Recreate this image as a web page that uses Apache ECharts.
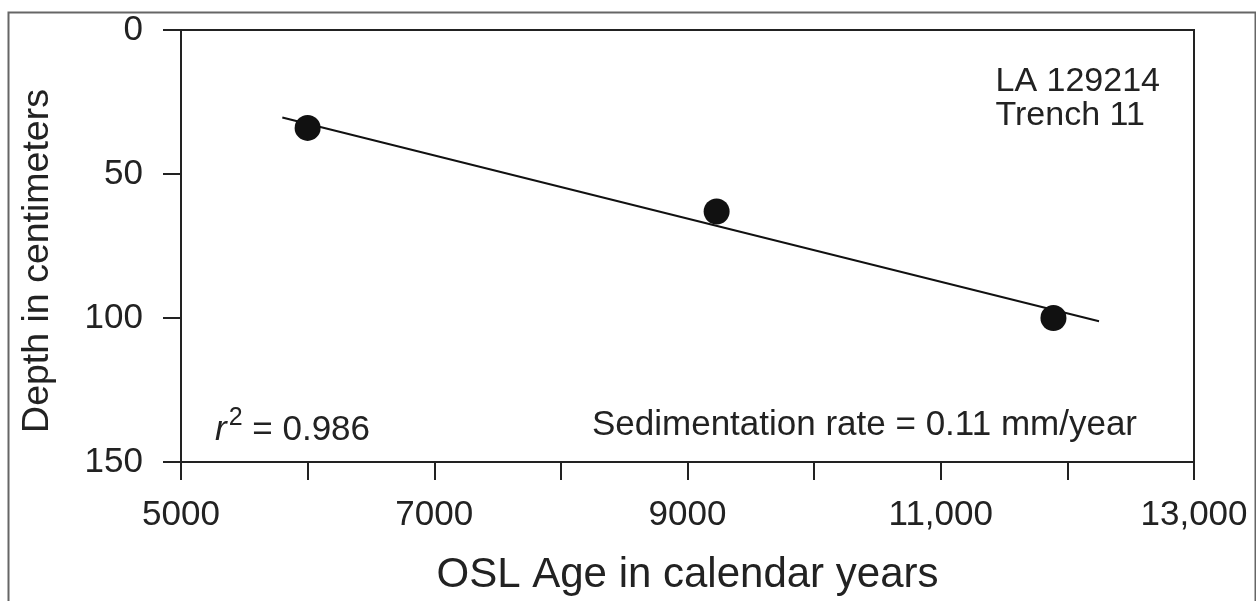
<!DOCTYPE html>
<html>
<head>
<meta charset="utf-8">
<script src="https://cdn.jsdelivr.net/npm/echarts@6/dist/echarts.min.js"></script>
<style>
html,body{margin:0;padding:0;background:#fff;}
#c{width:1256px;height:601px;}
</style>
</head>
<body>
<div id="c"></div>
<script>
// Data
const ages = [6000, 9230, 11890];       // OSL age, calendar years
const depths = [34, 63, 100];           // depth, cm
const fitAges = [5800, 12250];          // regression line endpoints (age)
const fitDepths = [30.4, 101.1];        // regression line endpoints (depth)
const xTicks = [5000, 7000, 9000, 11000, 13000];
const yTicks = [0, 50, 100, 150];
const siteLines = ['LA 129214', 'Trench 11'];
const r2Text = '0.986';
const rateText = 'Sedimentation rate = 0.11 mm/year';

const FONT = 'Liberation Sans, Arial, sans-serif';
const chart = echarts.init(document.getElementById('c'), null, {renderer: 'canvas'});

function fmtX(v) {
  if (xTicks.indexOf(v) < 0) return '';
  return v >= 10000 ? v.toLocaleString('en-US') : String(v);
}

chart.setOption({
  animation: false,
  backgroundColor: '#fff',
  grid: {left: 181, top: 30, right: 62, bottom: 138, show: true, borderColor: '#222', borderWidth: 2, backgroundColor: 'transparent'},
  xAxis: {
    type: 'value', min: 5000, max: 13000, interval: 1000,
    name: 'OSL Age in calendar years', nameLocation: 'middle', nameGap: 92,
    nameTextStyle: {fontFamily: FONT, fontSize: 42, color: '#222'},
    axisLine: {show: true, onZero: false, lineStyle: {color: '#222', width: 2}},
    axisTick: {show: true, inside: false, length: 18, lineStyle: {color: '#222', width: 2}},
    axisLabel: {formatter: fmtX, margin: 36, fontFamily: FONT, fontSize: 35, color: '#222', showMaxLabel: true, showMinLabel: true},
    splitLine: {show: false}
  },
  yAxis: {
    type: 'value', min: 0, max: 150, interval: 50, inverse: true,
    name: 'Depth in centimeters', nameLocation: 'middle', nameGap: 124,
    nameTextStyle: {fontFamily: FONT, fontSize: 37.5, color: '#222', padding: [0, 30, 0, 0]},
    axisLine: {show: true, onZero: false, lineStyle: {color: '#222', width: 2}},
    axisTick: {show: true, inside: false, length: 18, lineStyle: {color: '#222', width: 2}},
    axisLabel: {margin: 38, fontFamily: FONT, fontSize: 35, color: '#222',
      formatter: v => yTicks.indexOf(v) >= 0 ? String(v) : ''},
    splitLine: {show: false}
  },
  series: [
    {
      type: 'line', data: fitAges.map((a, i) => [a, fitDepths[i]]),
      showSymbol: false, symbol: 'none', lineStyle: {color: '#111', width: 2}, z: 2
    },
    {
      type: 'scatter', data: ages.map((a, i) => [a, depths[i]]),
      symbol: 'circle', symbolSize: 26, itemStyle: {color: '#111', opacity: 1}, z: 3
    }
  ],
  graphic: [
    {type: 'rect', left: 6, top: 10, shape: {width: 1247, height: 600}, style: {fill: 'none', stroke: '#666', lineWidth: 2}, silent: true},
    {type: 'text', right: 96, top: 65, style: {text: siteLines.join('\n'), font: '34px ' + FONT, fill: '#222', align: 'right', lineHeight: 34}},
    {type: 'text', left: 215, top: 406, style: {
      text: '{i|r}{s|2}{n| = ' + r2Text + '}',
      rich: {
        i: {fontFamily: FONT, fontSize: 35, fontStyle: 'italic', fill: '#222', verticalAlign: 'bottom', lineHeight: 42},
        s: {fontFamily: FONT, fontSize: 25, fill: '#222', verticalAlign: 'top', lineHeight: 42, padding: [0, 0, 0, 2]},
        n: {fontFamily: FONT, fontSize: 35, fill: '#222', verticalAlign: 'bottom', lineHeight: 42}
      }
    }},
    {type: 'text', right: 119, top: 408, style: {text: rateText, font: '35px ' + FONT, fill: '#222', align: 'right'}}
  ]
});
</script>
</body>
</html>
